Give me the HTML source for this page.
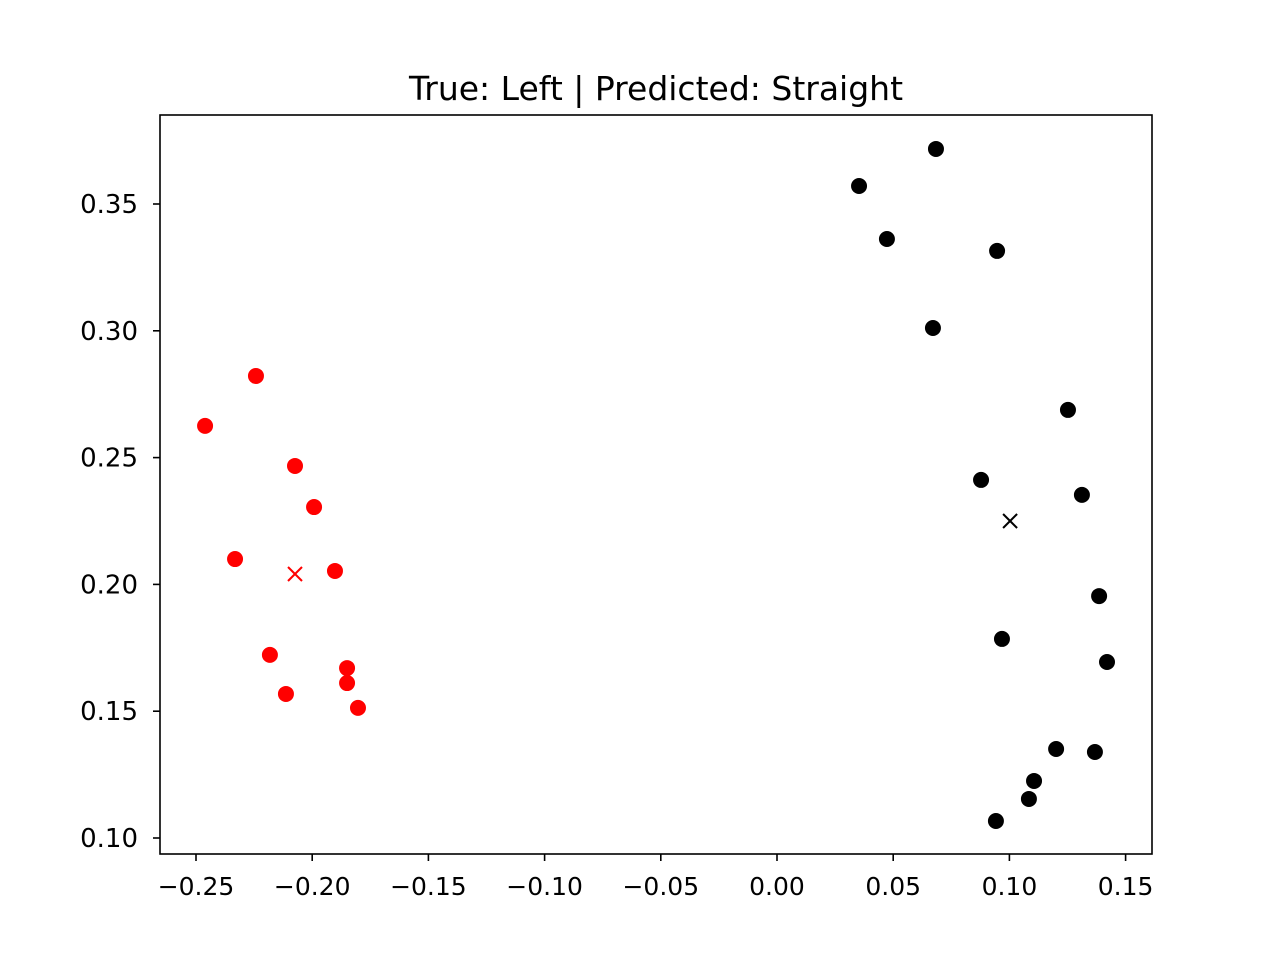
<!DOCTYPE html>
<html><head><meta charset="utf-8"><style>
body{margin:0;background:#fff;}
svg text{font-family:"DejaVu Sans","Liberation Sans",sans-serif;fill:#000;}
</style></head><body>
<svg id="chart" width="1280" height="960" xmlns="http://www.w3.org/2000/svg">
<rect width="1280" height="960" fill="#fff"/>
<text x="656" y="100" font-size="33" text-anchor="middle">True: Left | Predicted: Straight</text>
<g id="marks"></g>
<rect x="160" y="115" width="992" height="739" fill="none" stroke="#000" stroke-width="1.6"/>
<g id="axes"></g>
</svg>
<script>
const redX=[-0.2242,-0.2461,-0.2074,-0.1992,-0.2332,-0.1902,-0.2182,-0.1850,-0.1850,-0.2113,-0.1803];
const redY=[0.2822,0.2625,0.2467,0.2305,0.2100,0.2053,0.1722,0.1670,0.1611,0.1568,0.1513];
const blackX=[0.0684,0.0353,0.0473,0.0947,0.0671,0.1252,0.0878,0.1312,0.1386,0.0968,0.1420,0.1201,0.1368,0.1106,0.1084,0.0942];
const blackY=[0.3717,0.3571,0.3362,0.3315,0.3011,0.2688,0.2412,0.2353,0.1954,0.1785,0.1694,0.1351,0.1339,0.1225,0.1154,0.1067];
const centroidX=[-0.2074,0.1003];
const centroidY=[0.2041,0.2250];
const centroidColors=['#ff0000','#000000'];
const xTicks=[-0.25,-0.20,-0.15,-0.10,-0.05,0.00,0.05,0.10,0.15];
const yTicks=[0.10,0.15,0.20,0.25,0.30,0.35];
const xLabels=['−0.25','−0.20','−0.15','−0.10','−0.05','0.00','0.05','0.10','0.15'];
const yLabels=['0.10','0.15','0.20','0.25','0.30','0.35'];
function sx(v){return 777+v*2324;}
function sy(v){return 838-(v-0.10)*2536;}
const NS='http://www.w3.org/2000/svg';
const marks=document.getElementById('marks'), axes=document.getElementById('axes');
function mk(t,a,p){const e=document.createElementNS(NS,t);for(const k in a)e.setAttribute(k,a[k]);p.appendChild(e);return e;}
function dots(xs,ys,col,name){xs.forEach((x,i)=>{const c=mk('circle',{cx:sx(x),cy:sy(ys[i]),r:8,fill:col},marks);

});}
dots(redX,redY,'#ff0000','red-point');
dots(blackX,blackY,'#000000','black-point');
centroidX.forEach((x,i)=>{const X=sx(x),Y=sy(centroidY[i]),d=7;
const g=mk('g',{stroke:centroidColors[i],'stroke-width':2},marks);


mk('line',{x1:X-d,y1:Y-d,x2:X+d,y2:Y+d},g);mk('line',{x1:X-d,y1:Y+d,x2:X+d,y2:Y-d},g);});
xTicks.forEach((v,i)=>{const X=sx(v);mk('line',{x1:X,y1:854,x2:X,y2:861,stroke:'#000','stroke-width':1.6},axes);
const t=mk('text',{x:X,y:895,'font-size':25,'text-anchor':'middle'},axes);t.textContent=xLabels[i];

});
yTicks.forEach((v,i)=>{const Y=sy(v);mk('line',{x1:153,y1:Y,x2:160,y2:Y,stroke:'#000','stroke-width':1.6},axes);
const t=mk('text',{x:138,y:Y+9,'font-size':26,'text-anchor':'end'},axes);t.textContent=yLabels[i];

});
</script>
</body></html>
